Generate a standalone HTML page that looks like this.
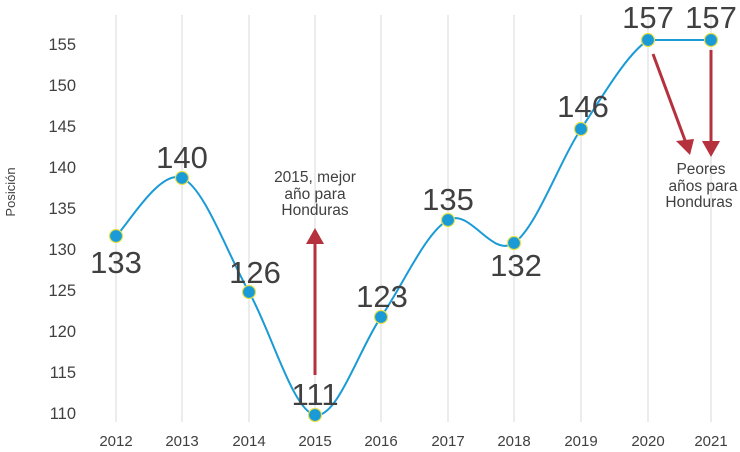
<!DOCTYPE html>
<html><head><meta charset="utf-8"><style>
html,body{margin:0;padding:0;background:#fff;}
svg{display:block;font-family:"Liberation Sans",sans-serif;}
</style></head><body>
<svg width="740" height="452" viewBox="0 0 740 452">
<g stroke="#d9d9d9" stroke-width="1">
<line x1="116" y1="15" x2="116" y2="422"/><line x1="182" y1="15" x2="182" y2="422"/>
<line x1="249" y1="15" x2="249" y2="422"/><line x1="315" y1="15" x2="315" y2="422"/>
<line x1="381" y1="15" x2="381" y2="422"/><line x1="448" y1="15" x2="448" y2="422"/>
<line x1="514" y1="15" x2="514" y2="422"/><line x1="581" y1="15" x2="581" y2="422"/>
<line x1="648" y1="15" x2="648" y2="422"/><line x1="711" y1="15" x2="711" y2="422"/>
</g>
<g font-size="16.5" fill="#404040" text-anchor="end">
<text x="76" y="50">155</text><text x="76" y="91">150</text><text x="76" y="132">145</text>
<text x="76" y="173">140</text><text x="76" y="214">135</text><text x="76" y="255">130</text>
<text x="76" y="296">125</text><text x="76" y="337">120</text><text x="76" y="378">115</text>
<text x="76" y="419">110</text>
</g>
<g font-size="15" fill="#404040" text-anchor="middle">
<text x="116" y="446">2012</text><text x="182" y="446">2013</text><text x="249" y="446">2014</text>
<text x="315" y="446">2015</text><text x="381" y="446">2016</text><text x="448" y="446">2017</text>
<text x="514" y="446">2018</text><text x="581" y="446">2019</text><text x="648" y="446">2020</text>
<text x="711" y="446">2021</text>
</g>
<text transform="translate(15,192) rotate(-90)" font-size="13" fill="#404040" text-anchor="middle">Posición</text>
<path d="M116,236 C127,226 159.8,168.7 182,178 C204.2,187.3 226.8,252.5 249,292 C271.2,331.5 293,410.8 315,415 C337,419.2 358.8,349.5 381,317 C403.2,284.5 425.8,232.3 448,220 C470.2,207.7 491.8,258.2 514,243 C536.2,227.8 558.7,162.8 581,129 C603.3,95.2 626.3,54.8 648,40 L711,40" fill="none" stroke="#1a9ad6" stroke-width="2"/>
<g fill="#1a9ad6" stroke="#e8e04a" stroke-width="1.2">
<circle cx="116" cy="236" r="6.5"/><circle cx="182" cy="178" r="6.5"/><circle cx="249" cy="292" r="6.5"/>
<circle cx="315" cy="415" r="6.5"/><circle cx="381" cy="317" r="6.5"/><circle cx="448" cy="220" r="6.5"/>
<circle cx="514" cy="243" r="6.5"/><circle cx="581" cy="129" r="6.5"/><circle cx="648" cy="40" r="6.5"/>
<circle cx="711" cy="40" r="6.5"/>
</g>
<g font-size="31" fill="#404040" text-anchor="middle">
<text x="116" y="273">133</text><text x="182" y="168">140</text><text x="255" y="283">126</text>
<text x="315" y="405">111</text><text x="382" y="307">123</text><text x="448" y="210">135</text>
<text x="516" y="276">132</text><text x="583" y="117">146</text><text x="648" y="28">157</text>
<text x="711" y="28">157</text>
</g>
<g stroke="#b5313d" stroke-width="3" fill="none">
<line x1="315" y1="375" x2="315" y2="240"/>
<line x1="653" y1="54" x2="686" y2="143"/>
<line x1="711" y1="50" x2="711" y2="145"/>
</g>
<g fill="#b5313d">
<polygon points="315,228 306,244 324,244"/>
<polygon points="690,155 676,141 694,139"/>
<polygon points="711,157 702,141 720,141"/>
</g>
<g font-size="15.5" fill="#404040" text-anchor="middle">
<text x="315" y="182">2015, mejor</text><text x="315" y="199">año para</text><text x="315" y="215">Honduras</text>
<text x="701" y="174">Peores</text><text x="703" y="191">años para</text><text x="699" y="207">Honduras</text>
</g>
</svg>
</body></html>
